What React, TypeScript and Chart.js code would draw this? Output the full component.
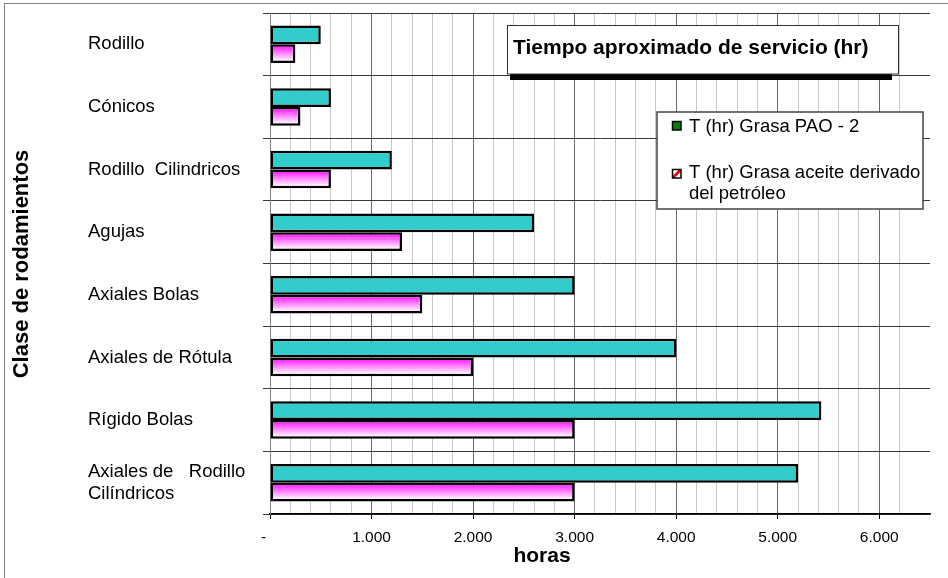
import React, { useEffect, useRef } from "react";
import { Chart, registerables } from "chart.js";

Chart.register(...registerables);

const categories: (string | string[])[] = [
  "Rodillo",
  "Cónicos",
  "Rodillo  Cilindricos",
  "Agujas",
  "Axiales Bolas",
  "Axiales de Rótula",
  "Rígido Bolas",
  ["Axiales de   Rodillo", "Cilíndricos"],
];
const seriesPAO: number[] = [500, 600, 1200, 2600, 3000, 4000, 5430, 5200];
const seriesPetroleo: number[] = [250, 300, 600, 1300, 1500, 2000, 3000, 3000];
const seriesNames: string[] = ["T (hr) Grasa PAO - 2", "T (hr) Grasa aceite derivado del petróleo"];
const xTickLabels: string[] = ["-   ", "1.000", "2.000", "3.000", "4.000", "5.000", "6.000"];
const chartTitle = "Tiempo aproximado de servicio (hr)";
const xTitle = "horas";
const yTitle = "Clase de rodamientos";

const FONT = "'Liberation Sans', Arial, sans-serif";
const CAT_PCT = 0.6;

const decorPlugin = {
  id: "decor",
  afterDraw(chart: any) {
    const ctx = chart.ctx as CanvasRenderingContext2D;
    ctx.save();
    // outer border
    ctx.strokeStyle = "#808080";
    ctx.lineWidth = 1;
    ctx.strokeRect(4.5, 3.5, 980, 620);

    // title box
    ctx.fillStyle = "#000";
    ctx.fillRect(510, 74, 382, 6);
    ctx.fillStyle = "#fff";
    ctx.fillRect(507.5, 25.5, 391, 48.5);
    ctx.strokeStyle = "#333";
    ctx.lineWidth = 1;
    ctx.strokeRect(507.5, 25.5, 391, 48.5);
    ctx.fillStyle = "#000";
    ctx.font = `bold 21px ${FONT}`;
    ctx.textBaseline = "middle";
    ctx.textAlign = "left";
    ctx.fillText(chartTitle, 513, 48);

    // legend box
    ctx.fillStyle = "#fff";
    ctx.fillRect(657, 112, 266, 97);
    ctx.strokeStyle = "#444";
    ctx.lineWidth = 1.5;
    ctx.strokeRect(657, 112, 266, 97);
    // marker 1
    ctx.fillStyle = "#008000";
    ctx.fillRect(672.5, 121.5, 8.5, 8.5);
    ctx.strokeStyle = "#000";
    ctx.lineWidth = 1.5;
    ctx.strokeRect(672.5, 121.5, 8.5, 8.5);
    // marker 2
    ctx.fillStyle = "#fff";
    ctx.fillRect(672.5, 169.5, 8.5, 8.5);
    ctx.fillStyle = "#FF0000";
    ctx.beginPath();
    ctx.moveTo(672.5, 176);
    ctx.lineTo(679, 169.5);
    ctx.lineTo(681, 169.5);
    ctx.lineTo(681, 171.5);
    ctx.lineTo(674.5, 178);
    ctx.lineTo(672.5, 178);
    ctx.closePath();
    ctx.fill();
    ctx.strokeRect(672.5, 169.5, 8.5, 8.5);
    ctx.fillStyle = "#000";
    ctx.font = `18.5px ${FONT}`;
    ctx.fillText(seriesNames[0], 689, 127);
    ctx.fillText("T (hr) Grasa aceite derivado", 689, 173);
    ctx.fillText("del petróleo", 689, 193.5);

    // axis titles
    ctx.font = `bold 21px ${FONT}`;
    ctx.textAlign = "center";
    ctx.fillText(xTitle, 542, 556);
    ctx.translate(22, 264);
    ctx.rotate(-Math.PI / 2);
    ctx.font = `bold 22px ${FONT}`;
    ctx.fillText(yTitle, 0, 0);
    ctx.restore();
  },
};

function pinkGradient(c: any) {
  const chart = c.chart;
  const ys = chart.scales && chart.scales.y;
  if (!ys || !chart.chartArea || c.dataIndex === undefined) return "#FF88FF";
  const center = ys.getPixelForValue(c.dataIndex);
  const band = ys.getPixelForValue(1) - ys.getPixelForValue(0);
  const half = (band * CAT_PCT) / 2;
  const g = chart.ctx.createLinearGradient(0, center, 0, center + half);
  g.addColorStop(0, "#FF00FF");
  g.addColorStop(0.9, "#FFFFFF");
  g.addColorStop(1, "#FFFFFF");
  return g;
}

export default function App() {
  const ref = useRef<HTMLCanvasElement>(null);
  useEffect(() => {
    if (!ref.current) return;
    const chart = new Chart(ref.current, {
      type: "bar",
      data: {
        labels: categories as any,
        datasets: [
          {
            label: seriesNames[0],
            data: seriesPAO,
            backgroundColor: "#33CCCC",
            borderColor: "#000",
            borderWidth: 2.5,
            borderSkipped: false,
          },
          {
            label: seriesNames[1],
            data: seriesPetroleo,
            backgroundColor: pinkGradient as any,
            borderColor: "#000",
            borderWidth: 2.5,
            borderSkipped: false,
          },
        ],
      },
      options: {
        indexAxis: "y",
        animation: false,
        responsive: false,
        maintainAspectRatio: false,
        devicePixelRatio: 1,
        layout: { padding: { left: 88, top: 13, right: 18, bottom: 0 } },
        datasets: { bar: { categoryPercentage: CAT_PCT, barPercentage: 1 } },
        plugins: { legend: { display: false }, tooltip: { enabled: false }, title: { display: false } },
        scales: {
          x: {
            min: 0,
            max: 6500,
            ticks: {
              stepSize: 200,
              autoSkip: false,
              maxRotation: 0,
              padding: 9,
              color: "#000",
              font: { family: FONT, size: 15.5 },
              callback: (v: any) => {
                const n = Number(v);
                if (n % 1000 !== 0) return "";
                const s = xTickLabels[n / 1000];
                return s === undefined ? "" : s;
              },
            },
            grid: {
              color: (c: any) => {
                const v = c.tick ? c.tick.value : 0;
                if (v >= 6500) return "rgba(0,0,0,0)";
                return v % 1000 === 0 ? "#6a6a6a" : "#c8c8c8";
              },
              tickColor: (c: any) => {
                const v = c.tick ? c.tick.value : 0;
                return v % 1000 === 0 && v < 6500 ? "#000" : "rgba(0,0,0,0)";
              },
              tickLength: 5,
              lineWidth: 1,
            },
            border: { color: "#000", width: 1.5 },
            afterFit: (s: any) => {
              s.height = 64;
              s.paddingLeft = 0;
              s.paddingRight = 0;
            },
          },
          y: {
            ticks: {
              crossAlign: "far",
              color: "#000",
              font: { family: FONT, size: 18.5, lineHeight: 1.17 },
              autoSkip: false,
            },
            grid: {
              offset: true,
              color: "#3a3a3a",
              tickColor: "#3a3a3a",
              tickLength: 7,
              lineWidth: 1,
            },
            border: { color: "#808080", width: 1 },
            afterFit: (s: any) => {
              s.width = 182;
              s.paddingTop = 0;
              s.paddingBottom = 0;
            },
          },
        },
      },
      plugins: [decorPlugin],
    });
    return () => chart.destroy();
  }, []);
  return (
    <div style={{ position: "absolute", left: 0, top: 0, width: 948, height: 578, background: "#fff" }}>
      <canvas ref={ref} width={948} height={578} style={{ display: "block" }} />
    </div>
  );
}
